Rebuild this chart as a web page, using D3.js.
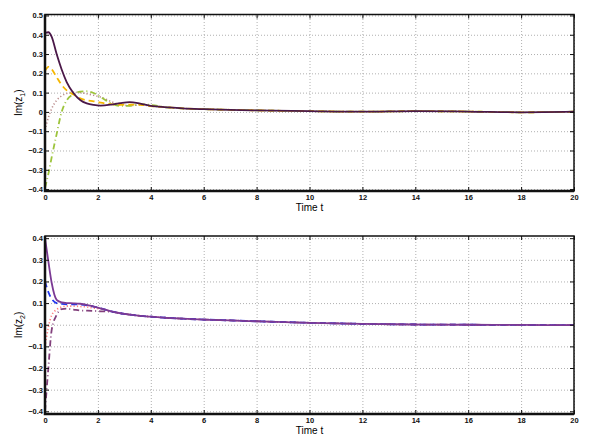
<!DOCTYPE html>
<html>
<head>
<meta charset="utf-8">
<script src="https://cdn.jsdelivr.net/npm/d3@7"></script>
<style>
body{margin:0;background:#fff;}
svg{display:block;}
.tick text{font-family:"Liberation Sans",Arial,sans-serif;font-weight:bold;font-size:7.5px;fill:#111;}
.grid line{stroke:#b0b0b0;stroke-dasharray:1,2;}
.grid path{display:none;}
.ax path{display:none;}
.ax line{stroke:#111;}
</style>
</head>
<body>
<svg id="svg" width="591" height="439"></svg>
<script>
// shared time samples
var times=[0,0.13,0.25,0.44,0.63,0.82,1.08,1.33,1.58,1.84,2.1,2.5,2.85,3.2,3.6,4,4.6,5.2,6,7,8,10,12,14,16,18,20];

var xTicks=[0,2,4,6,8,10,12,14,16,18,20];
var yTicks1=[-0.4,-0.3,-0.2,-0.1,0,0.1,0.2,0.3,0.4,0.5];
var yTicks2=[-0.4,-0.3,-0.2,-0.1,0,0.1,0.2,0.3,0.4];

// Im(z1)
var z1Solid=[0.41,0.413,0.39,0.30,0.22,0.155,0.097,0.062,0.044,0.036,0.033,0.038,0.046,0.051,0.043,0.031,0.024,0.018,0.014,0.011,0.008,0.004,0.001,0.004,0.002,-0.002,0.001];
var z1Dash=[0.213,0.234,0.222,0.18,0.14,0.112,0.09,0.07,0.06,0.055,0.048,0.04,0.037,0.038,0.037,0.03,0.024,0.018,0.014,0.011,0.008,0.004,0.001,0.004,0.002,-0.002,0.001];
var z1Dot=[-0.095,-0.028,0.016,0.06,0.083,0.096,0.102,0.1,0.094,0.086,0.077,0.054,0.037,0.033,0.036,0.032,0.024,0.018,0.014,0.011,0.008,0.004,0.001,0.004,0.002,-0.002,0.001];
var z1DashDot=[-0.393,-0.32,-0.237,-0.115,0.0,0.06,0.092,0.105,0.107,0.098,0.078,0.045,0.031,0.031,0.04,0.036,0.024,0.018,0.014,0.011,0.008,0.004,0.001,0.004,0.002,-0.002,0.001];

// Im(z2)
var z2Solid=[0.40,0.29,0.195,0.115,0.103,0.1,0.099,0.097,0.092,0.084,0.076,0.062,0.053,0.047,0.041,0.037,0.032,0.028,0.024,0.02,0.016,0.009,0.004,0.001,0,-0.001,-0.002];
var z2Dash=[0.2,0.15,0.12,0.1,0.096,0.094,0.094,0.093,0.09,0.084,0.076,0.062,0.053,0.047,0.041,0.037,0.032,0.028,0.024,0.02,0.016,0.009,0.004,0.001,0,-0.001,-0.002];
var z2Dot=[-0.103,-0.01,0.043,0.07,0.082,0.086,0.086,0.084,0.082,0.077,0.073,0.062,0.053,0.047,0.041,0.037,0.032,0.028,0.024,0.02,0.016,0.009,0.004,0.001,0,-0.001,-0.002];
var z2DashDot=[-0.40,-0.195,-0.026,0.045,0.072,0.074,0.07,0.066,0.065,0.064,0.062,0.06,0.053,0.047,0.041,0.037,0.032,0.028,0.024,0.02,0.016,0.009,0.004,0.001,0,-0.001,-0.002];

var svg=d3.select("#svg");

function panel(opt){
	var x=d3.scaleLinear().domain([0,20]).range([45,574]);
	var y=d3.scaleLinear().domain(opt.ydom).range([opt.bottom,opt.top]);
	var w=574-45, h=opt.bottom-opt.top;
	var g=svg.append("g");

	g.append("g").classed("grid",true)
	.attr("transform","translate(0,"+opt.bottom+")")
	.call(d3.axisBottom(x).tickValues(xTicks).tickSize(-h).tickFormat(""));
	g.append("g").classed("grid",true)
	.attr("transform","translate(45,0)")
	.call(d3.axisLeft(y).tickValues(opt.yticks).tickSize(-w).tickFormat(""));

	var line=d3.line()
	.x(function(d){return x(d[0]);})
	.y(function(d){return y(d[1]);})
	.curve(d3.curveMonotoneX);

	opt.series.forEach(function(s){
		g.append("path")
		.datum(times.map(function(t,i){return [t,s.v[i]];}))
		.attr("d",line)
		.attr("fill","none")
		.attr("stroke",s.c)
		.attr("stroke-width",s.sw||1.8)
		.attr("stroke-dasharray",s.dash);
	});

	var fmt=function(d){return d===0?"0":d3.format(".1f")(d).replace("−","-").replace("-","\u2212");};

	g.append("g").classed("ax",true)
	.attr("transform","translate(0,"+opt.bottom+")")
	.call(d3.axisBottom(x).tickValues(xTicks).tickSize(-4).tickPadding(4).tickFormat(d3.format("d")));
	g.append("g").classed("ax",true)
	.attr("transform","translate(0,"+opt.top+")")
	.call(d3.axisTop(x).tickValues(xTicks).tickSize(-4).tickFormat(""));
	g.append("g").classed("ax",true)
	.attr("transform","translate(45,0)")
	.call(d3.axisLeft(y).tickValues(opt.yticks).tickSize(-4).tickPadding(2).tickFormat(fmt));
	g.append("g").classed("ax",true)
	.attr("transform","translate(574,0)")
	.call(d3.axisRight(y).tickValues(opt.yticks).tickSize(-4).tickFormat(""));

	g.append("rect")
	.attr("x",45).attr("y",opt.top).attr("width",w).attr("height",h)
	.attr("fill","none").attr("stroke","#111").attr("stroke-width",1.5);
	g.append("path")
	.attr("d","M45,"+opt.top+"V"+opt.bottom+"H574")
	.attr("fill","none").attr("stroke","#111").attr("stroke-width",2.5);

	g.append("text")
	.attr("x",309.5).attr("y",opt.bottom+20)
	.attr("text-anchor","middle")
	.style("font-family","Liberation Sans,Arial,sans-serif")
	.style("font-size","10px")
	.text("Time t");

	var yl=g.append("text")
	.attr("transform","translate(22,"+((opt.top+opt.bottom)/2)+") rotate(-90)")
	.attr("text-anchor","middle")
	.style("font-family","Liberation Sans,Arial,sans-serif")
	.style("font-size","10px");
	yl.append("tspan").text("Im(z");
	yl.append("tspan").attr("dy",3).style("font-size","7px").text(opt.sub);
	yl.append("tspan").attr("dy",-3).text(")");
}

panel({top:14.5,bottom:191,ydom:[-0.41,0.505],yticks:yTicks1,sub:"1",
	series:[
		{v:z1Dot,c:"#b98a8a",dash:"1.2,2.2",sw:1.6},
		{v:z1DashDot,c:"#9dc43c",dash:"6,3,1,3"},
		{v:z1Dash,c:"#f5b700",dash:"6,4"},
		{v:z1Solid,c:"#4a1848",dash:null}
	]});

panel({top:236,bottom:414,ydom:[-0.4125,0.41],yticks:yTicks2,sub:"2",
	series:[
		{v:z2Dot,c:"#ff7a7a",dash:"1.2,2.2",sw:1.6},
		{v:z2DashDot,c:"#82407c",dash:"6,3,1,3"},
		{v:z2Dash,c:"#2238f0",dash:"6,4"},
		{v:z2Solid,c:"#7b3a94",dash:null}
	]});
</script>
</body>
</html>
